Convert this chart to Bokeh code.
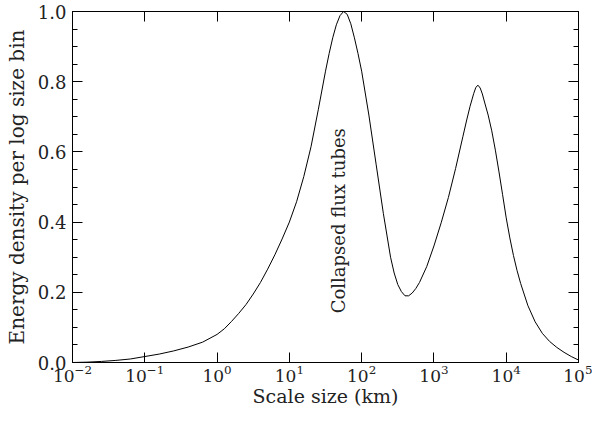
import numpy as np
from bokeh.plotting import figure
from bokeh.models import (LogAxis, LinearAxis, FixedTicker, LogTickFormatter, Label,
                          ColumnDataSource, BasicTickFormatter, PrintfTickFormatter)
from bokeh.embed import file_html
from bokeh.resources import INLINE

# log10 of scale size (km) and energy density per log size bin
log_scale_km = [-2.00, -1.80, -1.60, -1.40, -1.20, -1.00, -0.80, -0.60, -0.40, -0.20,
                0.00, 0.10, 0.20, 0.30, 0.40, 0.50, 0.60, 0.70, 0.80, 0.90,
                1.00, 1.10, 1.20, 1.30, 1.40, 1.50, 1.55, 1.60, 1.65, 1.70,
                1.75, 1.80, 1.85, 1.90, 1.95, 2.00, 2.10, 2.20, 2.30, 2.40,
                2.45, 2.50, 2.55, 2.60, 2.65, 2.70, 2.75, 2.80, 2.90, 3.00,
                3.10, 3.20, 3.30, 3.40, 3.45, 3.50, 3.55, 3.58, 3.61, 3.64,
                3.67, 3.70, 3.75, 3.80, 3.85, 3.90, 3.95, 4.00, 4.05, 4.10,
                4.15, 4.20, 4.30, 4.40, 4.50, 4.60, 4.70, 4.80, 4.90, 5.00]
energy = [0.000, 0.001, 0.003, 0.006, 0.010, 0.017, 0.024, 0.033, 0.044, 0.058,
          0.080, 0.096, 0.117, 0.140, 0.165, 0.195, 0.228, 0.266, 0.307, 0.352,
          0.400, 0.458, 0.530, 0.615, 0.720, 0.830, 0.880, 0.925, 0.962, 0.988,
          1.000, 0.992, 0.965, 0.925, 0.880, 0.830, 0.705, 0.565, 0.425, 0.300,
          0.255, 0.222, 0.202, 0.190, 0.190, 0.198, 0.211, 0.228, 0.273, 0.332,
          0.398, 0.470, 0.553, 0.643, 0.688, 0.730, 0.766, 0.784, 0.790, 0.782,
          0.765, 0.742, 0.705, 0.660, 0.605, 0.543, 0.478, 0.412, 0.355, 0.305,
          0.262, 0.225, 0.162, 0.116, 0.083, 0.060, 0.043, 0.029, 0.017, 0.007]

x_ticks = [1e-2, 1e-1, 1e0, 1e1, 1e2, 1e3, 1e4, 1e5]
y_ticks = [0.0, 0.2, 0.4, 0.6, 0.8, 1.0]
y_minor = [0.05, 0.10, 0.15, 0.25, 0.30, 0.35, 0.45, 0.50, 0.55, 0.65, 0.70, 0.75, 0.85, 0.90, 0.95]
annotation = "Collapsed flux tubes"
annotation_pos = (48.0, 0.14)

FONT = "DejaVu Serif"
src = ColumnDataSource(dict(x=10 ** np.array(log_scale_km), y=energy))

p = figure(width=592, height=409, x_axis_type="log", x_range=(1e-2, 1e5), y_range=(0, 1.0),
           output_backend="svg", toolbar_location=None, x_axis_location=None, y_axis_location=None,
           min_border_top=11, min_border_right=14, min_border_left=72, min_border_bottom=44)
p.xgrid.visible = False
p.ygrid.visible = False
p.outline_line_color = "black"
p.outline_line_width = 1

p.line("x", "y", source=src, line_color="black", line_width=1)

def style(ax, labels=True, tick_size="18px", label_size="20px"):
    ax.axis_line_color = "black"
    ax.major_tick_in = 10
    ax.major_tick_out = 0
    ax.minor_tick_in = 5
    ax.minor_tick_out = 0
    ax.major_tick_line_color = "black"
    ax.minor_tick_line_color = "black"
    ax.major_label_text_font = FONT
    ax.axis_label_text_font = FONT
    ax.axis_label_text_font_style = "normal"
    ax.axis_label_text_color = "#222222"
    if labels:
        ax.major_label_text_color = "#222222"
        ax.major_label_text_font_size = tick_size
        ax.axis_label_text_font_size = label_size
    else:
        ax.major_label_text_color = None
        ax.major_label_text_font_size = "1px"
        ax.major_label_standoff = 0

xb = LogAxis(ticker=FixedTicker(ticks=x_ticks), formatter=LogTickFormatter(),
             axis_label="Scale size (km)")
style(xb, tick_size="17px", label_size="19px")
xb.minor_tick_line_color = None
xb.major_label_standoff = 2
xb.axis_label_standoff = 0
p.add_layout(xb, "below")

xt = LogAxis(ticker=FixedTicker(ticks=x_ticks), formatter=BasicTickFormatter())
style(xt, labels=False)
xt.minor_tick_line_color = None
p.add_layout(xt, "above")

yl = LinearAxis(ticker=FixedTicker(ticks=y_ticks, minor_ticks=y_minor),
                formatter=PrintfTickFormatter(format="%.1f"),
                axis_label="Energy density per log size bin")
style(yl)
yl.major_label_standoff = 6
yl.axis_label_standoff = 6
p.add_layout(yl, "left")

yr = LinearAxis(ticker=FixedTicker(ticks=y_ticks, minor_ticks=y_minor),
                formatter=PrintfTickFormatter(format="%.1f"))
style(yr, labels=False)
p.add_layout(yr, "right")

lab = Label(x=annotation_pos[0], y=annotation_pos[1], text=annotation, angle=np.pi / 2,
            text_font=FONT, text_font_size="18px", text_align="left", text_baseline="middle",
            text_color="#222222")
p.add_layout(lab)

open("out.html", "w").write(file_html(p, INLINE))
